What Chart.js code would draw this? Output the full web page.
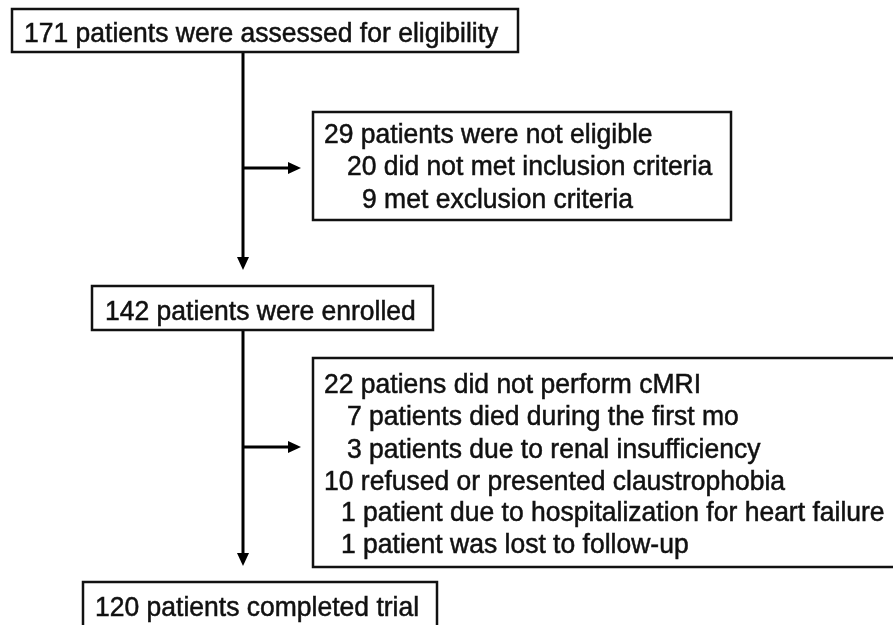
<!DOCTYPE html>
<html>
<head>
<meta charset="utf-8">
<script src="https://cdn.jsdelivr.net/npm/chart.js@4/dist/chart.umd.min.js"></script>
<style>
  html, body { margin: 0; padding: 0; background: #fff; }
  #flow { display: block; }
</style>
</head>
<body>
<canvas id="flow" width="893" height="625"></canvas>
<script>
// flow counts and their captions
const counts = [171, 29, 20, 9, 142, 22, 7, 3, 10, 1, 1, 120];
const captions = [
    'patients were assessed for eligibility',
    'patients were not eligible',
    'did not met inclusion criteria',
    'met exclusion criteria',
    'patients were enrolled',
    'patiens did not perform cMRI',
    'patients died during the first mo',
    'patients due to renal insufficiency',
    'refused or presented claustrophobia',
    'patient due to hospitalization for heart failure',
    'patient was lost to follow-up',
    'patients completed trial'
];
// which entries go in which box
const boxItems = [[0], [1, 2, 3], [4], [5, 6, 7, 8, 9, 10], [11]];

// layout, in scale units (x 0..893, y 0..625 top-down)
const boxes = [
    { x0: 12,  y0: 9,   x1: 518, y1: 52,  textX: [24],                          textY: [34] },
    { x0: 313, y0: 112, x1: 731, y1: 220, textX: [324, 347, 362],               textY: [135, 167, 200] },
    { x0: 92,  y0: 286, x1: 433, y1: 330, textX: [105],                         textY: [312] },
    { x0: 313, y0: 358, x1: 905, y1: 567, textX: [324, 347, 347, 324, 341, 341], textY: [385, 417, 450, 482, 513, 545] },
    { x0: 83,  y0: 582, x1: 437, y1: 640, textX: [95],                          textY: [608] }
];
const connectors = [
    { from: [243, 51],  to: [243, 270] },
    { from: [243, 168], to: [301, 168] },
    { from: [243, 330], to: [243, 566] },
    { from: [243, 447], to: [301, 447] }
];
const ARROW_LEN = 13;

const flowPlugin = {
    id: 'flowPlugin',
    beforeDraw(chart) {
        const c = chart.ctx;
        c.save();
        c.fillStyle = '#fff';
        c.fillRect(0, 0, chart.width, chart.height);
        c.restore();
    },
    afterDatasetsDraw(chart) {
        const c = chart.ctx;
        const sx = chart.scales.x, sy = chart.scales.y;
        const px = v => sx.getPixelForValue(v);
        const py = v => sy.getPixelForValue(v);

        c.save();
        // arrow heads
        c.fillStyle = '#000';
        connectors.forEach(cn => {
            const tx = px(cn.to[0]), ty = py(cn.to[1]);
            const fx = px(cn.from[0]), fy = py(cn.from[1]);
            const ang = Math.atan2(ty - fy, tx - fx);
            c.beginPath();
            c.moveTo(tx, ty);
            c.lineTo(tx - ARROW_LEN * Math.cos(ang) + 6 * Math.sin(ang), ty - ARROW_LEN * Math.sin(ang) - 6 * Math.cos(ang));
            c.lineTo(tx - ARROW_LEN * Math.cos(ang) - 6 * Math.sin(ang), ty - ARROW_LEN * Math.sin(ang) + 6 * Math.cos(ang));
            c.closePath();
            c.fill();
        });

        // boxes and text
        c.strokeStyle = '#111';
        c.lineWidth = 2.5;
        boxes.forEach((b, i) => {
            const x0 = px(b.x0), y0 = py(b.y0), x1 = px(b.x1), y1 = py(b.y1);
            c.fillStyle = '#fff';
            c.fillRect(x0, y0, x1 - x0, y1 - y0);
            c.strokeRect(x0, y0, x1 - x0, y1 - y0);
        });

        c.font = '26.5px "Liberation Sans", Arial, sans-serif';
        c.textBaseline = 'middle';
        c.fillStyle = '#111';
        c.strokeStyle = '#111';
        c.lineWidth = 0.5;
        boxes.forEach((b, i) => {
            boxItems[i].forEach((k, j) => {
                const txt = counts[k] + ' ' + captions[k];
                c.save();
                // the source glyphs are a touch taller than plain Arial
                c.translate(px(b.textX[j]), py(b.textY[j]));
                c.scale(1, 1.06);
                c.fillText(txt, 0, 0);
                c.strokeText(txt, 0, 0);
                c.restore();
            });
        });
        c.restore();
    }
};

new Chart(document.getElementById('flow'), {
    type: 'scatter',
    data: {
        datasets: connectors.map(cn => ({
            data: [
                { x: cn.from[0], y: cn.from[1] },
                // stop the line where the arrow head starts
                { x: cn.to[0] - (cn.to[0] !== cn.from[0] ? ARROW_LEN - 2 : 0),
                  y: cn.to[1] - (cn.to[1] !== cn.from[1] ? ARROW_LEN - 2 : 0) }
            ],
            showLine: true,
            borderColor: '#000',
            borderWidth: 3,
            pointRadius: 0,
            pointHoverRadius: 0
        }))
    },
    plugins: [flowPlugin],
    options: {
        responsive: false,
        animation: false,
        layout: { padding: 0 },
        plugins: { legend: { display: false }, tooltip: { enabled: false } },
        scales: {
            x: { type: 'linear', min: 0, max: 893, display: false },
            y: { type: 'linear', min: 0, max: 625, reverse: true, display: false }
        }
    }
});
</script>
</body>
</html>
